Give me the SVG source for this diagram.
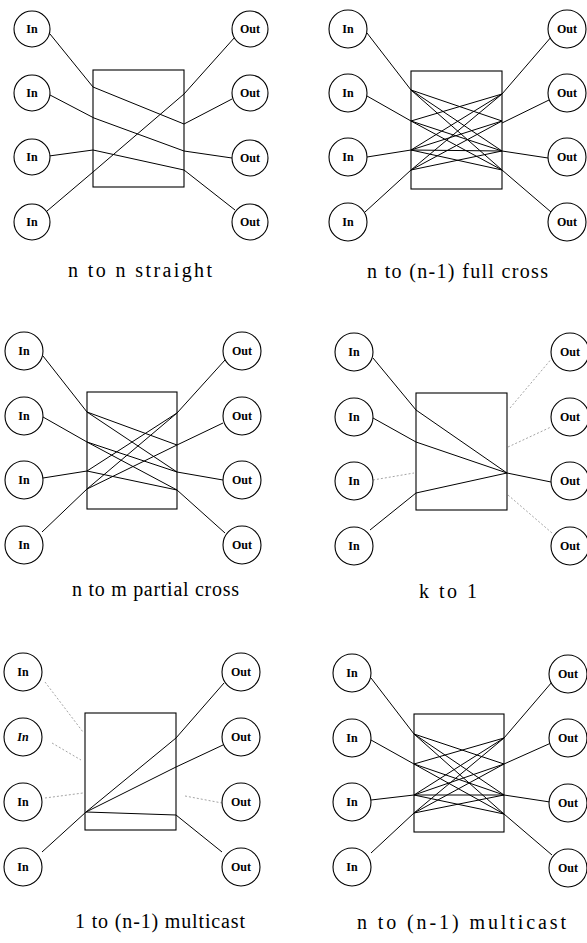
<svg xmlns="http://www.w3.org/2000/svg" width="587" height="943" viewBox="0 0 587 943">
<style>
.node circle{fill:#fff;stroke:#000;stroke-width:1.1}
.node text{font-family:"Liberation Serif",serif;font-weight:bold;font-size:12px;text-anchor:middle;fill:#000}
.box rect{fill:none;stroke:#000;stroke-width:1.1}
.c{fill:none;stroke:#000;stroke-width:1}
.d{fill:none;stroke:#9a9a9a;stroke-width:0.9;stroke-dasharray:2 2}
.cap{font-family:"Liberation Serif",serif;font-size:20px;fill:#000}
</style>
<rect width="587" height="943" fill="#fff"/>

<!-- connectors -->
<g id="connectors">
  <!-- panel 1 -->
  <polyline class="c" points="50,34 93,87 184,124 232,99"/>
  <polyline class="c" points="50,95 94,118 184,151 232,158"/>
  <polyline class="c" points="49,156 93,150 184,170 235,210"/>
  <polyline class="c" points="47,211 93,172 184,94 235,37"/>
  <!-- panel 2 -->
  <line class="c" x1="367" y1="33" x2="411" y2="90"/>
  <line class="c" x1="367" y1="96" x2="411" y2="121"/>
  <line class="c" x1="367" y1="157" x2="411" y2="150"/>
  <line class="c" x1="365" y1="212" x2="411" y2="170"/>
  <line class="c" x1="502" y1="94" x2="552" y2="36"/>
  <line class="c" x1="502" y1="123" x2="549" y2="100"/>
  <line class="c" x1="502" y1="151" x2="548" y2="158"/>
  <line class="c" x1="502" y1="170" x2="551" y2="212"/>
  <path class="c" d="M411,90L502,121M411,90L502,151M411,90L502,170M411,121L502,94M411,121L502,151M411,121L502,170M411,150L502,94M411,150L502,121M411,150L502,151M411,150L502,170M411,170L502,94M411,170L502,121M411,170L502,151"/>
  <!-- panel 3 -->
  <line class="c" x1="43" y1="356" x2="87" y2="412"/>
  <line class="c" x1="43" y1="417" x2="87" y2="442"/>
  <line class="c" x1="43" y1="478" x2="87" y2="471"/>
  <line class="c" x1="42" y1="532" x2="87" y2="489"/>
  <line class="c" x1="177" y1="413" x2="225" y2="360"/>
  <line class="c" x1="177" y1="445" x2="223" y2="423"/>
  <line class="c" x1="177" y1="472" x2="223" y2="480"/>
  <line class="c" x1="177" y1="490" x2="225" y2="533"/>
  <path class="c" d="M87,412L177,445M87,412L177,472M87,442L177,472M87,442L177,490M87,471L177,413M87,471L177,490M87,489L177,413M87,489L177,445"/>
  <!-- panel 4 -->
  <polyline class="c" points="373,358 416,410 507,473"/>
  <polyline class="c" points="373,418 416,442 507,473"/>
  <polyline class="c" points="370,530 416,493 507,473"/>
  <line class="c" x1="507" y1="473" x2="551" y2="482"/>
  <line class="d" x1="373" y1="480" x2="414" y2="473"/>
  <line class="d" x1="510" y1="408" x2="553" y2="357"/>
  <line class="d" x1="508" y1="447" x2="551" y2="427"/>
  <line class="d" x1="508" y1="495" x2="552" y2="533"/>
  <!-- panel 5 -->
  <line class="c" x1="42" y1="852" x2="86" y2="812"/>
  <polyline class="c" points="86,812 176,738 224,683"/>
  <polyline class="c" points="86,812 176,767 223,745"/>
  <polyline class="c" points="86,812 176,815 222,852"/>
  <line class="d" x1="45" y1="682" x2="83" y2="732"/>
  <line class="d" x1="52" y1="743" x2="81" y2="760"/>
  <line class="d" x1="45" y1="798" x2="83" y2="793"/>
  <line class="d" x1="185" y1="796" x2="222" y2="803"/>
  <!-- panel 6 -->
  <line class="c" x1="371" y1="678" x2="414" y2="734"/>
  <line class="c" x1="371" y1="740" x2="414" y2="764"/>
  <line class="c" x1="371" y1="800" x2="414" y2="795"/>
  <line class="c" x1="371" y1="853" x2="414" y2="813"/>
  <line class="c" x1="504" y1="738" x2="552" y2="682"/>
  <line class="c" x1="504" y1="764" x2="551" y2="743"/>
  <line class="c" x1="504" y1="795" x2="550" y2="802"/>
  <line class="c" x1="504" y1="814" x2="552" y2="855"/>
  <path class="c" d="M414,734L504,764M414,734L504,795M414,734L504,814M414,764L504,738M414,764L504,795M414,764L504,814M414,795L504,738M414,795L504,764M414,795L504,795M414,795L504,814M414,813L504,738M414,813L504,764M414,813L504,795"/>
</g>

<!-- switch boxes -->
<g id="box1" class="box"><rect x="93" y="70" width="91" height="117"/></g>
<g id="box2" class="box"><rect x="411" y="71" width="91" height="118"/></g>
<g id="box3" class="box"><rect x="87" y="392" width="90" height="117"/></g>
<g id="box4" class="box"><rect x="416" y="393" width="91" height="117"/></g>
<g id="box5" class="box"><rect x="85" y="713" width="91" height="117"/></g>
<g id="box6" class="box"><rect x="414" y="714" width="90" height="118"/></g>

<!-- panel 1 nodes -->
<g id="p1-in1" class="node"><circle cx="32" cy="29" r="18"/><text x="32" y="33">In</text></g>
<g id="p1-in2" class="node"><circle cx="32" cy="93" r="18"/><text x="32" y="97">In</text></g>
<g id="p1-in3" class="node"><circle cx="32" cy="157" r="18"/><text x="32" y="161">In</text></g>
<g id="p1-in4" class="node"><circle cx="32" cy="222" r="18"/><text x="32" y="226">In</text></g>
<g id="p1-out1" class="node"><circle cx="250" cy="29" r="18"/><text x="250" y="33">Out</text></g>
<g id="p1-out2" class="node"><circle cx="250" cy="93" r="18"/><text x="250" y="97">Out</text></g>
<g id="p1-out3" class="node"><circle cx="250" cy="158" r="18"/><text x="250" y="162">Out</text></g>
<g id="p1-out4" class="node"><circle cx="250" cy="222" r="18"/><text x="250" y="226">Out</text></g>

<!-- panel 2 nodes -->
<g id="p2-in1" class="node"><circle cx="348" cy="29" r="19"/><text x="348" y="33">In</text></g>
<g id="p2-in2" class="node"><circle cx="348" cy="93" r="19"/><text x="348" y="97">In</text></g>
<g id="p2-in3" class="node"><circle cx="348" cy="157" r="19"/><text x="348" y="161">In</text></g>
<g id="p2-in4" class="node"><circle cx="348" cy="222" r="19"/><text x="348" y="226">In</text></g>
<g id="p2-out1" class="node"><circle cx="567" cy="29" r="19"/><text x="567" y="33">Out</text></g>
<g id="p2-out2" class="node"><circle cx="567" cy="93" r="19"/><text x="567" y="97">Out</text></g>
<g id="p2-out3" class="node"><circle cx="567" cy="157" r="19"/><text x="567" y="161">Out</text></g>
<g id="p2-out4" class="node"><circle cx="567" cy="222" r="19"/><text x="567" y="226">Out</text></g>

<!-- panel 3 nodes -->
<g id="p3-in1" class="node"><circle cx="24" cy="351" r="19"/><text x="24" y="355">In</text></g>
<g id="p3-in2" class="node"><circle cx="24" cy="416" r="19"/><text x="24" y="420">In</text></g>
<g id="p3-in3" class="node"><circle cx="24" cy="480" r="19"/><text x="24" y="484">In</text></g>
<g id="p3-in4" class="node"><circle cx="24" cy="545" r="19"/><text x="24" y="549">In</text></g>
<g id="p3-out1" class="node"><circle cx="242" cy="351" r="19"/><text x="242" y="355">Out</text></g>
<g id="p3-out2" class="node"><circle cx="242" cy="416" r="19"/><text x="242" y="420">Out</text></g>
<g id="p3-out3" class="node"><circle cx="242" cy="480" r="19"/><text x="242" y="484">Out</text></g>
<g id="p3-out4" class="node"><circle cx="242" cy="545" r="19"/><text x="242" y="549">Out</text></g>

<!-- panel 4 nodes -->
<g id="p4-in1" class="node"><circle cx="354" cy="352" r="19"/><text x="354" y="356">In</text></g>
<g id="p4-in2" class="node"><circle cx="354" cy="417" r="19"/><text x="354" y="421">In</text></g>
<g id="p4-in3" class="node"><circle cx="354" cy="481" r="19"/><text x="354" y="485">In</text></g>
<g id="p4-in4" class="node"><circle cx="354" cy="546" r="19"/><text x="354" y="550">In</text></g>
<g id="p4-out1" class="node"><circle cx="570" cy="352" r="19"/><text x="570" y="356">Out</text></g>
<g id="p4-out2" class="node"><circle cx="570" cy="417" r="19"/><text x="570" y="421">Out</text></g>
<g id="p4-out3" class="node"><circle cx="570" cy="481" r="19"/><text x="570" y="485">Out</text></g>
<g id="p4-out4" class="node"><circle cx="570" cy="546" r="19"/><text x="570" y="550">Out</text></g>

<!-- panel 5 nodes -->
<g id="p5-in1" class="node"><circle cx="23" cy="672" r="19"/><text x="23" y="676">In</text></g>
<g id="p5-in2" class="node"><circle cx="23" cy="737" r="19"/><text x="23" y="741" font-style="italic">In</text></g>
<g id="p5-in3" class="node"><circle cx="23" cy="802" r="19"/><text x="23" y="806">In</text></g>
<g id="p5-in4" class="node"><circle cx="23" cy="867" r="19"/><text x="23" y="871">In</text></g>
<g id="p5-out1" class="node"><circle cx="241" cy="672" r="19"/><text x="241" y="676">Out</text></g>
<g id="p5-out2" class="node"><circle cx="241" cy="737" r="19"/><text x="241" y="741">Out</text></g>
<g id="p5-out3" class="node"><circle cx="241" cy="802" r="19"/><text x="241" y="806">Out</text></g>
<g id="p5-out4" class="node"><circle cx="241" cy="867" r="19"/><text x="241" y="871">Out</text></g>

<!-- panel 6 nodes -->
<g id="p6-in1" class="node"><circle cx="352" cy="673" r="19"/><text x="352" y="677">In</text></g>
<g id="p6-in2" class="node"><circle cx="352" cy="738" r="19"/><text x="352" y="742">In</text></g>
<g id="p6-in3" class="node"><circle cx="352" cy="802" r="19"/><text x="352" y="806">In</text></g>
<g id="p6-in4" class="node"><circle cx="352" cy="867" r="19"/><text x="352" y="871">In</text></g>
<g id="p6-out1" class="node"><circle cx="568" cy="674" r="19"/><text x="568" y="678">Out</text></g>
<g id="p6-out2" class="node"><circle cx="568" cy="738" r="19"/><text x="568" y="742">Out</text></g>
<g id="p6-out3" class="node"><circle cx="568" cy="803" r="19"/><text x="568" y="807">Out</text></g>
<g id="p6-out4" class="node"><circle cx="568" cy="868" r="19"/><text x="568" y="872">Out</text></g>

<!-- captions -->
<g id="captions">
  <text class="cap" x="68" y="277" textLength="144" lengthAdjust="spacing">n to n straight</text>
  <text class="cap" x="367" y="278" textLength="181" lengthAdjust="spacing">n to (n-1) full cross</text>
  <text class="cap" x="72" y="596" textLength="167" lengthAdjust="spacing">n to m partial cross</text>
  <text class="cap" x="419" y="598" textLength="58" lengthAdjust="spacing">k to 1</text>
  <text class="cap" x="75" y="928" textLength="170" lengthAdjust="spacing">1 to (n-1) multicast</text>
  <text class="cap" x="357" y="929" textLength="209" lengthAdjust="spacing">n to (n-1) multicast</text>
</g>
</svg>
